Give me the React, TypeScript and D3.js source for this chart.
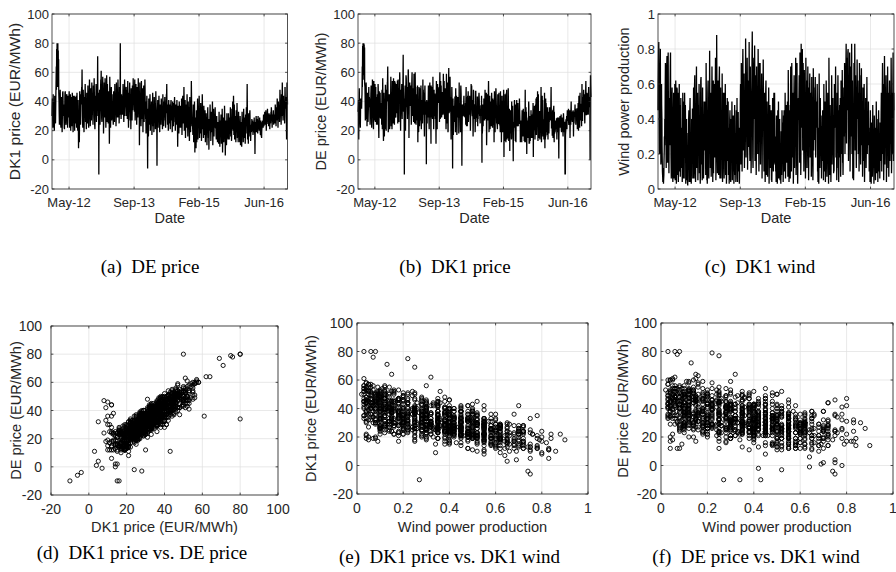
import React from "react";
import * as d3 from "d3";

// Daily market observations. Each three-day block contributes two days:
// the first array of each pair holds day 0 of the block, the second day 1.
const SERIES_START = "2012-01-01";
const BLOCK_DAYS = 3;

// DK1 wind power production, percent of installed capacity (block day 0).
const windPct = [
  45,70,84,35,20,55,80,30,18,60,40,15,7,6,3,8,22,25,38,72,50,12,62,76,28,45,78,35,9,52,
  25,62,78,30,6,45,58,20,4,36,55,10,40,60,5,28,50,3,33,57,12,42,4,30,55,16,48,7,38,22,
  20,35,4,42,10,28,50,6,55,30,48,3,22,40,5,14,2,32,25,45,4,36,52,8,28,3,40,15,46,6,
  30,58,6,45,65,18,4,40,62,12,35,55,5,48,25,60,9,38,3,52,64,14,42,5,58,30,10,13,50,22,
  27,50,8,72,35,5,3,40,62,14,6,45,79,30,12,55,7,38,70,20,4,48,9,33,60,18,42,75,5,28,
  88,40,9,62,30,8,50,70,12,35,58,6,45,20,66,4,38,55,14,6,42,22,60,8,48,3,33,52,16,40,
  8,35,3,28,45,12,4,40,18,50,5,30,10,42,3,25,48,8,32,4,38,15,52,6,27,44,10,35,3,30,
  35,60,14,72,45,10,55,80,22,40,66,12,50,28,86,18,58,38,75,11,48,62,24,84,35,16,70,45,9,52,
  62,90,30,12,55,75,40,82,16,65,48,8,70,35,58,20,80,45,10,60,38,72,14,50,30,66,6,42,55,74,
  40,10,55,28,4,45,62,16,35,50,7,38,22,58,3,30,48,12,42,33,5,4,18,52,36,10,45,28,55,14,
  30,10,4,42,18,3,35,12,50,6,28,40,5,25,3,33,8,45,20,38,4,42,34,10,26,55,6,30,48,15,
  25,50,7,68,35,4,45,16,6,58,30,10,72,40,18,55,3,38,65,12,48,24,75,8,42,60,15,3,35,52,
  40,65,15,78,50,8,83,35,60,80,22,72,45,10,68,28,55,6,75,42,62,12,48,70,24,5,58,38,66,18,
  30,55,7,64,40,15,5,69,22,48,38,58,64,18,45,50,35,60,10,4,25,3,66,33,12,52,20,42,6,36,
  16,45,35,5,60,10,28,50,4,40,62,12,7,32,55,22,3,75,30,8,48,18,4,38,65,14,35,52,42,9,
  10,60,35,48,70,18,40,5,55,24,65,12,4,45,38,26,52,7,62,20,42,68,15,8,50,58,30,72,20,45,
  55,83,26,75,45,68,80,16,60,40,78,10,52,70,30,83,20,62,6,48,5,72,35,83,22,65,45,12,58,74,
  40,62,20,55,10,72,35,48,14,65,69,25,50,7,58,34,16,60,4,45,22,52,12,40,64,20,43,34,50,26,
  10,32,4,45,15,3,38,20,7,48,12,30,3,42,18,35,5,28,50,9,40,15,4,33,45,10,26,6,38,16,
  30,55,10,45,72,20,60,5,40,76,14,50,32,65,4,42,24,70,12,55,7,38,62,16,48,26,75,9,45,20,
  40,78,16,55,
];

// DK1 wind power production, percent of installed capacity (block day 1).
const windPctNext = [
  58,78,62,22,35,68,55,14,32,48,25,10,4,12,5,16,30,40,55,60,32,28,70,50,15,62,58,20,25,40,
  38,70,55,18,12,52,40,8,15,42,48,6,28,48,12,62,35,10,58,40,8,55,14,45,60,10,30,18,52,12,
  12,25,15,55,6,20,42,22,48,18,40,8,32,28,10,6,8,22,40,30,12,45,38,4,16,10,28,25,35,14,
  42,45,15,58,50,10,12,30,70,22,48,40,12,35,38,52,18,25,8,62,55,20,30,12,45,40,6,24,38,30,
  40,38,18,60,22,10,12,55,48,8,15,35,65,42,20,45,12,50,58,30,10,62,18,40,52,28,55,62,14,20,
  72,28,18,50,42,14,62,55,6,45,40,12,35,30,52,10,48,42,22,10,55,30,45,14,35,8,25,40,24,50,
  15,25,10,40,32,6,12,28,30,38,10,42,18,30,8,35,36,14,22,10,45,25,40,4,20,32,16,25,8,22,
  48,45,25,60,32,18,68,65,35,52,50,20,38,40,72,28,45,50,62,20,35,55,36,70,25,28,58,52,16,40,
  75,72,18,25,68,60,52,70,28,52,35,15,58,48,45,38,68,32,22,72,50,60,25,40,42,55,14,55,45,62,
  28,20,42,15,12,55,48,8,25,38,15,28,35,45,10,42,36,20,30,45,12,10,30,40,25,18,55,15,42,25,
  20,16,10,30,25,8,45,6,38,12,20,30,10,15,8,22,14,35,28,30,10,32,45,16,18,42,12,22,38,25,
  38,40,15,55,48,10,32,25,12,70,22,18,62,52,28,45,8,50,55,20,35,32,65,15,30,72,22,8,45,40,
  52,58,25,70,38,15,75,45,52,68,32,62,35,18,60,40,45,12,65,55,50,20,38,62,35,12,48,50,55,28,
  42,45,14,55,30,22,12,58,32,38,28,48,52,25,35,40,45,50,18,10,35,8,55,42,20,40,28,32,14,28,
  25,35,45,12,48,18,20,40,10,30,55,20,14,42,45,30,8,62,22,15,38,25,10,28,55,20,45,40,32,16,
  18,50,45,38,58,25,30,12,45,32,55,20,10,35,48,18,42,14,52,28,32,58,22,15,40,48,38,62,28,35,
  68,72,38,62,55,78,65,25,50,48,68,18,40,62,40,72,30,52,14,38,12,62,45,70,32,55,35,20,48,65,
  50,52,30,45,18,60,25,38,22,55,58,35,40,14,48,25,24,50,10,35,30,42,20,30,52,28,35,25,40,35,
  18,25,10,35,22,8,30,12,14,40,20,22,8,32,25,28,12,20,42,16,32,22,10,25,38,16,20,12,30,24,
  42,45,18,55,62,28,50,12,52,65,22,40,42,55,10,32,35,60,20,45,14,48,52,25,38,35,65,16,55,28,
  52,62,25,45,
];

// DK1 day-ahead price, EUR/MWh (block day 0).
const dk1Price = [
  30,42,22,45,38,27,20,44,35,25,46,64,76,80,50,80,75,69,40,24,36,48,28,22,43,33,19,41,47,30,
  38,26,21,43,47,30,24,40,45,33,22,44,29,36,47,25,38,45,20,31,43,27,46,35,19,40,28,44,20,37,
  33,25,44,22,46,30,20,41,8,28,12,47,35,24,45,38,50,62,30,22,48,32,19,43,36,52,26,42,21,46,
  40,25,51,33,22,47,55,30,23,49,38,27,53,31,46,24,51,36,56,29,21,44,33,52,26,41,49,71,30,46,
  -10,30,48,24,42,55,61,33,26,50,57,36,18,46,53,29,56,41,22,49,58,31,52,44,25,47,38,11,57,40,
  22,40,50,27,45,30,35,24,47,38,26,52,33,46,23,53,37,29,48,55,34,44,25,50,31,80,42,28,45,36,
  44,31,52,38,26,47,55,30,41,43,50,35,48,28,54,40,22,46,33,53,32,45,21,49,37,27,51,34,56,39,
  47,33,55,27,42,52,31,24,50,40,29,56,36,47,10,53,33,45,23,54,38,28,49,19,44,51,26,41,55,32,
  28,18,40,44,23,-6,35,16,42,24,33,45,20,38,26,40,17,31,46,23,37,19,43,28,39,21,47,33,26,-4,
  30,41,22,36,44,26,19,38,31,24,42,28,37,21,45,33,23,40,29,43,27,22,39,45,52,32,24,38,20,41,
  35,25,38,21,33,41,27,37,19,40,30,23,39,32,43,26,20,38,34,24,41,24,9,37,29,18,40,31,22,37,
  34,22,42,17,31,44,25,39,50,20,36,41,15,30,38,22,45,32,16,40,26,36,13,43,28,19,37,54,33,23,
  27,17,38,12,25,40,5,29,16,8,34,12,26,42,14,33,22,44,15,30,18,39,24,13,36,45,21,31,15,37,
  25,17,34,12,24,32,20,10,29,36,23,15,7,28,20,38,26,13,33,19,30,40,10,25,35,16,30,22,36,27,
  22,14,30,18,12,26,21,11,33,17,9,27,19,31,11,24,35,5,18,29,12,23,37,15,3,27,19,10,32,17,
  22,14,32,23,14,29,18,36,16,27,13,35,21,40,25,44,17,38,14,30,24,12,34,19,39,15,27,12,33,21,
  24,12,30,10,21,18,9,33,19,27,12,35,20,15,29,11,31,18,36,23,52,14,27,11,32,16,25,34,19,13,
  24,19,28,20,27,17,23,22,29,18,4,26,20,30,19,25,28,18,30,21,27,20,29,23,17,27,16,15,22,26,
  27,22,31,23,29,33,24,30,34,20,28,25,35,26,31,23,32,28,21,30,25,33,36,27,22,31,26,34,24,30,
  31,25,38,28,23,36,27,42,33,22,40,29,37,26,48,32,39,24,45,30,53,37,27,44,34,40,25,50,35,43,
  38,14,53,42,
];

// DK1 day-ahead price, EUR/MWh (block day 1).
const dk1PriceNext = [
  36,35,29,40,33,23,28,39,30,32,51,48,58,55,57,52,56,46,33,29,42,43,24,30,37,27,25,46,41,35,
  32,22,29,46,41,26,31,44,39,28,27,40,34,42,39,22,42,38,25,36,39,23,41,29,24,44,33,38,26,43,
  28,31,39,27,40,25,26,34,18,33,20,42,29,30,40,44,45,51,25,28,43,27,24,38,41,46,31,37,27,40,
  35,30,45,28,27,42,50,36,28,44,32,33,47,36,40,29,46,41,50,24,27,39,38,47,31,36,44,52,35,41,
  22,36,43,29,47,50,52,28,31,45,52,41,24,40,48,34,51,36,28,44,53,26,47,39,30,42,33,20,51,45,
  28,45,44,32,40,36,29,30,42,33,31,47,38,41,28,48,32,34,43,50,29,39,30,45,36,47,37,33,40,31,
  39,36,47,33,31,42,50,35,36,48,45,30,43,33,49,35,28,41,38,48,27,40,26,44,32,33,46,39,51,44,
  42,38,50,32,37,47,36,29,45,35,34,51,41,42,22,48,38,40,28,49,43,33,44,26,39,46,31,36,50,37,
  33,24,35,39,28,15,30,22,37,29,28,40,25,33,31,35,22,36,41,28,32,24,38,33,34,26,42,28,31,18,
  35,36,27,31,39,31,24,33,36,29,37,33,32,26,40,38,28,35,34,38,32,27,34,40,42,37,29,33,25,36,
  30,30,33,26,38,36,32,32,24,35,35,28,34,37,38,31,25,33,29,29,36,28,19,32,34,23,35,36,27,32,
  29,27,37,22,36,39,30,34,44,25,31,36,21,35,33,27,40,27,22,35,31,31,19,38,33,24,32,46,28,28,
  22,23,33,18,30,35,13,24,21,15,29,19,31,37,20,28,27,39,21,25,23,34,29,19,31,40,26,26,21,32,
  20,22,29,18,29,27,25,16,24,31,28,20,15,23,25,33,21,19,28,24,25,35,17,30,30,21,25,27,31,22,
  17,19,25,23,17,21,26,16,28,22,14,22,24,26,16,19,30,12,23,24,17,18,32,20,10,22,24,15,27,22,
  17,19,27,28,19,24,23,31,21,22,18,30,26,35,20,38,22,33,19,25,29,17,29,24,34,20,22,17,28,26,
  19,17,25,16,26,13,15,28,24,22,17,30,25,20,24,16,26,23,31,28,40,19,22,17,27,21,30,29,24,18,
  21,23,25,24,23,21,26,19,25,22,14,23,24,27,22,21,25,22,26,24,23,24,26,20,21,24,19,20,25,23,
  24,26,28,27,25,30,28,27,31,24,25,29,32,29,28,27,29,31,25,27,29,30,33,30,26,28,30,31,27,27,
  27,30,34,32,28,32,31,38,37,27,36,33,33,31,43,36,35,29,41,34,46,33,32,40,38,36,30,45,39,39,
  33,24,47,38,
];

// German (DE) day-ahead price, EUR/MWh (block day 0).
const dePrice = [
  33,38,14,46,32,36,22,42,40,36,43,64,78,80,80,80,79,77,50,27,29,53,29,34,41,37,26,37,50,36,
  36,31,32,40,51,30,32,35,51,35,21,54,32,29,52,26,50,43,24,38,39,30,52,38,15,47,29,38,29,39,
  28,31,46,21,56,33,13,46,24,40,28,51,42,20,48,44,53,64,37,23,42,41,21,41,41,57,23,46,21,54,
  45,26,56,31,26,54,51,33,29,52,34,34,54,25,55,26,49,41,60,26,25,44,41,47,32,43,48,72,33,39,
  -10,36,51,20,49,56,36,42,28,48,62,47,15,50,53,37,51,47,24,48,60,34,45,49,26,59,36,25,60,36,
  26,37,43,27,51,12,34,19,50,28,27,49,27,51,21,41,37,25,55,48,33,46,16,48,32,34,33,-3,41,25,
  40,35,43,40,24,42,53,29,30,11,47,43,42,28,57,32,21,48,32,45,35,42,11,54,35,21,52,41,49,39,
  50,26,60,28,54,50,35,31,46,43,35,59,32,54,30,47,42,47,21,59,49,25,53,19,52,63,32,43,54,42,
  35,14,43,50,26,-6,42,17,36,33,35,43,25,49,23,44,17,39,41,29,39,18,53,31,32,26,48,45,24,-4,
  31,35,31,38,42,31,30,35,35,24,50,23,43,23,44,43,26,33,34,44,39,20,43,52,48,35,30,41,16,48,
  32,29,38,29,28,47,29,36,29,43,23,28,40,44,41,30,27,34,37,30,44,-2,18,38,23,27,42,29,27,48,
  33,32,45,10,36,45,37,37,54,27,32,44,21,33,34,29,46,26,25,42,24,41,24,40,32,19,45,49,39,25,
  25,21,45,25,28,46,32,25,23,47,28,44,28,40,19,44,19,48,2,38,13,45,26,12,46,48,14,36,16,49,
  21,24,35,6,33,34,18,15,40,33,27,15,-1,23,26,40,25,23,36,12,35,41,36,23,39,23,26,25,42,30,
  27,25,27,22,12,34,16,17,35,16,33,30,12,48,12,36,33,4,25,25,15,29,40,11,11,28,13,19,34,15,
  28,16,31,33,2,22,23,37,28,25,38,42,17,43,31,47,13,45,15,24,33,14,32,24,50,12,31,44,41,16,
  25,24,28,46,8,14,42,39,22,23,36,36,14,24,31,30,36,29,33,27,50,22,22,17,34,15,35,37,12,18,
  27,21,26,24,28,14,28,23,28,21,1,24,22,30,23,22,31,19,29,26,29,16,32,24,23,26,-10,-10,20,28,
  28,21,34,29,27,35,24,34,31,15,29,24,40,28,27,26,33,34,16,32,29,31,38,30,24,29,30,35,21,35,
  39,20,44,30,22,46,30,35,38,23,52,27,41,33,44,35,45,27,41,37,54,31,36,46,32,45,36,47,39,43,
  42,0,58,46,
];

// German (DE) day-ahead price, EUR/MWh (block day 1).
const dePriceNext = [
  34,41,30,49,28,27,28,36,38,35,45,50,60,58,61,55,59,52,44,29,40,49,28,23,46,28,30,43,43,43,
  42,24,34,45,48,22,34,55,39,26,33,44,27,51,40,27,39,40,33,34,45,24,50,24,28,44,30,46,29,37,
  32,24,48,28,45,22,28,42,16,39,21,51,24,34,40,41,53,54,19,38,45,32,23,45,37,49,42,37,25,46,
  44,25,49,28,24,50,53,30,38,46,37,32,54,32,43,40,46,39,56,28,20,48,39,52,28,38,52,50,41,42,
  21,43,39,32,58,50,50,34,35,38,61,42,29,37,50,42,49,42,29,53,48,30,47,36,38,45,27,30,53,50,
  24,45,36,29,43,29,30,26,46,23,30,42,30,44,26,37,37,31,43,44,31,30,28,51,31,40,38,32,28,35,
  35,29,51,32,21,48,48,36,31,51,37,29,50,29,43,37,28,30,43,45,28,33,24,48,26,35,43,44,42,44,
  45,49,50,30,43,51,29,38,46,40,31,53,49,40,28,49,47,35,32,49,40,41,47,20,49,48,36,35,57,33,
  35,32,33,45,29,24,25,26,37,26,36,43,19,43,33,40,21,43,37,31,43,24,36,39,38,19,51,29,36,15,
  38,30,37,33,44,30,31,29,39,40,37,31,38,30,33,47,29,40,31,40,40,25,40,41,51,32,33,33,22,44,
  28,36,37,19,47,37,37,29,26,43,33,34,35,46,33,35,25,30,37,32,30,38,21,37,33,30,31,39,38,32,
  35,28,46,17,40,39,27,42,47,19,41,38,26,34,40,23,43,38,22,33,37,35,12,47,34,29,29,48,36,26,
  24,28,32,25,26,38,24,24,19,21,33,12,40,38,25,25,29,47,19,31,24,43,24,23,31,37,34,29,15,42,
  13,31,30,23,26,29,33,14,30,32,37,15,19,23,22,41,24,13,38,26,30,34,24,26,33,32,25,25,37,26,
  12,23,25,20,25,24,20,26,30,27,13,29,20,29,27,19,28,18,27,17,26,19,37,17,12,30,22,21,28,31,
  24,15,30,39,19,22,29,35,14,31,19,35,23,37,28,36,28,34,28,20,33,17,26,32,37,14,32,19,33,25,
  24,14,27,24,24,19,16,37,19,26,17,27,33,23,18,26,28,28,30,35,36,22,33,17,25,27,34,22,33,19,
  19,27,27,21,28,22,29,19,29,20,16,29,24,26,25,23,21,27,27,27,21,25,30,19,24,25,24,17,27,23,
  30,26,27,30,27,26,33,28,34,22,26,33,31,32,29,32,26,33,25,25,33,32,30,35,27,31,30,35,25,29,
  35,28,40,33,37,27,35,38,34,35,39,27,43,33,48,35,42,25,44,45,46,31,38,44,31,45,31,50,36,41,
  37,30,52,43,
];

const dateTickValues = ["2012-05-11", "2013-09-23", "2015-02-04", "2016-06-18"];
const dateTickLabels = ["May-12", "Sep-13", "Feb-15", "Jun-16"];
const priceTicks = [-20, 0, 20, 40, 60, 80, 100];
const shareTicks = [0, 0.2, 0.4, 0.6, 0.8, 1];

type Day = { date: Date; dk1: number; de: number; wind: number };

const parseDay = d3.utcParse("%Y-%m-%d");
const startDay = parseDay(SERIES_START) as Date;
const days: Day[] = d3.range(dk1Price.length).flatMap((i) => [
  {
    date: d3.utcDay.offset(startDay, i * BLOCK_DAYS),
    dk1: dk1Price[i],
    de: dePrice[i],
    wind: windPct[i] / 100,
  },
  {
    date: d3.utcDay.offset(startDay, i * BLOCK_DAYS + 1),
    dk1: dk1PriceNext[i],
    de: dePriceNext[i],
    wind: windPctNext[i] / 100,
  },
]);
const isNum = (v: unknown): v is number => typeof v === "number" && Number.isFinite(v);
const dateExtent = d3.extent(days, (d) => d.date) as [Date, Date];

const SANS = "'Liberation Sans', Arial, Helvetica, sans-serif";
const SERIF = "'Liberation Serif', 'Times New Roman', serif";
const AXIS = "#262626";
const GRID = "#dfdfdf";

type Box = { l: number; r: number; t: number; b: number };

type FrameProps = {
  box: Box;
  x: (v: any) => number;
  y: (v: number) => number;
  xTicks: any[];
  xLabels: string[];
  yTicks: number[];
  yLabels: string[];
  xTitle: string;
  yTitle: string;
  tickSize: number;
  titleSize: number;
  yTitleX: number;
  yTitleStretch?: number;
  yLabelGap: number;
  xLabelY: number;
  xTitleY: number;
  caption: string;
  captionX: number;
  captionY: number;
  children?: React.ReactNode;
};

function Frame(p: FrameProps) {
  const { box } = p;
  const tl = 2.4;
  const xs = p.xTicks.map((t) => p.x(t));
  const ys = p.yTicks.map((t) => p.y(t));
  const stretch = p.yTitleStretch ?? 1;
  return (
    <g>
      {xs.map((px, i) => (
        <line key={"gx" + i} x1={px} x2={px} y1={box.t} y2={box.b} stroke={GRID} strokeWidth={0.7} />
      ))}
      {ys.map((py, i) => (
        <line key={"gy" + i} x1={box.l} x2={box.r} y1={py} y2={py} stroke={GRID} strokeWidth={0.7} />
      ))}
      {p.children}
      <rect x={box.l} y={box.t} width={box.r - box.l} height={box.b - box.t} fill="none" stroke={AXIS} strokeWidth={0.8} />
      {xs.map((px, i) => (
        <g key={"tx" + i} stroke={AXIS} strokeWidth={0.8}>
          <line x1={px} x2={px} y1={box.b} y2={box.b - tl} />
          <line x1={px} x2={px} y1={box.t} y2={box.t + tl} />
        </g>
      ))}
      {ys.map((py, i) => (
        <g key={"ty" + i} stroke={AXIS} strokeWidth={0.8}>
          <line x1={box.l} x2={box.l + tl} y1={py} y2={py} />
          <line x1={box.r} x2={box.r - tl} y1={py} y2={py} />
        </g>
      ))}
      <g fontFamily={SANS} fill={AXIS} fontSize={p.tickSize}>
        {xs.map((px, i) => (
          <text key={"lx" + i} x={px} y={p.xLabelY} textAnchor="middle">{p.xLabels[i]}</text>
        ))}
        {ys.map((py, i) => (
          <text key={"ly" + i} x={box.l - p.yLabelGap} y={py} textAnchor="end" dominantBaseline="central">{p.yLabels[i]}</text>
        ))}
      </g>
      <g fontFamily={SANS} fill={AXIS} fontSize={p.titleSize}>
        <text x={(box.l + box.r) / 2} y={p.xTitleY} textAnchor="middle">{p.xTitle}</text>
        <text
          transform={`translate(${p.yTitleX},${(box.t + box.b) / 2}) rotate(-90) scale(${stretch},1)`}
          textAnchor="middle"
          dominantBaseline="central"
        >
          {p.yTitle}
        </text>
      </g>
      <text x={p.captionX} y={p.captionY} textAnchor="middle" fontFamily={SERIF} fontSize={19} fill="#000" style={{ whiteSpace: "pre" }}>
        {p.caption}
      </text>
    </g>
  );
}

function TimePanel(props: {
  box: Box;
  value: (d: Day) => number;
  yDomain: [number, number];
  yTicks: number[];
  yLabels: string[];
  yTitle: string;
  yTitleX: number;
  yTitleStretch?: number;
  caption: string;
  captionX: number;
}) {
  const { box } = props;
  const x = d3.scaleUtc().domain(dateExtent).range([box.l, box.r]);
  const y = d3.scaleLinear().domain(props.yDomain).range([box.b, box.t]);
  const path = d3
    .line<Day>()
    .defined((d) => isNum(props.value(d)))
    .x((d) => x(d.date))
    .y((d) => y(props.value(d)))(days);
  return (
    <Frame
      box={box}
      x={x}
      y={y}
      xTicks={dateTickValues.map((d) => parseDay(d) as Date)}
      xLabels={dateTickLabels}
      yTicks={props.yTicks}
      yLabels={props.yLabels}
      xTitle="Date"
      yTitle={props.yTitle}
      tickSize={13}
      titleSize={14.5}
      yTitleX={props.yTitleX}
      yTitleStretch={props.yTitleStretch}
      yLabelGap={3}
      xLabelY={206.5}
      xTitleY={223}
      caption={props.caption}
      captionX={props.captionX}
      captionY={273}
    >
      <path d={path ?? ""} fill="none" stroke="#000" strokeWidth={1.3} strokeLinejoin="miter" />
    </Frame>
  );
}

function ScatterPanel(props: {
  box: Box;
  xv: (d: Day) => number;
  yv: (d: Day) => number;
  xDomain: [number, number];
  xTicks: number[];
  xTitle: string;
  yTitle: string;
  yTitleX: number;
  yLabelGap: number;
  xLabelY: number;
  caption: string;
  captionX: number;
  captionY: number;
}) {
  const { box } = props;
  const x = d3.scaleLinear().domain(props.xDomain).range([box.l, box.r]);
  const y = d3.scaleLinear().domain([-20, 100]).range([box.b, box.t]);
  const pts = days.filter((d) => isNum(props.xv(d)) && isNum(props.yv(d)));
  return (
    <Frame
      box={box}
      x={x}
      y={y}
      xTicks={props.xTicks}
      xLabels={props.xTicks.map((t) => String(t))}
      yTicks={priceTicks}
      yLabels={priceTicks.map((t) => String(t))}
      xTitle={props.xTitle}
      yTitle={props.yTitle}
      tickSize={14}
      titleSize={14.6}
      yTitleX={props.yTitleX}
      yLabelGap={props.yLabelGap}
      xLabelY={props.xLabelY}
      xTitleY={531.5}
      caption={props.caption}
      captionX={props.captionX}
      captionY={props.captionY}
    >
      <g fill="none" stroke="#000" strokeWidth={0.9}>
        {pts.map((d, i) => (
          <circle key={i} cx={x(props.xv(d))} cy={y(props.yv(d))} r={2.1} />
        ))}
      </g>
    </Frame>
  );
}

export default function App() {
  const top = { t: 14, b: 189 };
  return (
    <svg
      width={896}
      height={572}
      viewBox="0 0 896 572"
      style={{ position: "absolute", left: 0, top: 0, display: "block", background: "#fff" }}
    >
      <TimePanel
        box={{ l: 52, r: 287.5, ...top }}
        value={(d) => d.dk1}
        yDomain={[-20, 100]}
        yTicks={priceTicks}
        yLabels={priceTicks.map(String)}
        yTitle="DK1 price (EUR/MWh)"
        yTitleX={15}
        yTitleStretch={1.08}
        caption="(a)  DE price"
        captionX={150}
      />
      <TimePanel
        box={{ l: 358, r: 591, ...top }}
        value={(d) => d.de}
        yDomain={[-20, 100]}
        yTicks={priceTicks}
        yLabels={priceTicks.map(String)}
        yTitle="DE price (EUR/MWh)"
        yTitleX={321}
        caption="(b)  DK1 price"
        captionX={455}
      />
      <TimePanel
        box={{ l: 658, r: 894, ...top }}
        value={(d) => d.wind}
        yDomain={[0, 1]}
        yTicks={shareTicks}
        yLabels={shareTicks.map(String)}
        yTitle="Wind power production"
        yTitleX={624}
        caption="(c)  DK1 wind"
        captionX={760}
      />
      <ScatterPanel
        box={{ l: 51, r: 278, t: 326, b: 495 }}
        xv={(d) => d.dk1}
        yv={(d) => d.de}
        xDomain={[-20, 100]}
        xTicks={priceTicks}
        xTitle="DK1 price (EUR/MWh)"
        yTitle="DE price (EUR/MWh)"
        yTitleX={15.5}
        yLabelGap={9}
        xLabelY={514}
        caption="(d)  DK1 price vs. DE price"
        captionX={142}
        captionY={559}
      />
      <ScatterPanel
        box={{ l: 357, r: 588, t: 323, b: 494 }}
        xv={(d) => d.wind}
        yv={(d) => d.dk1}
        xDomain={[0, 1]}
        xTicks={shareTicks}
        xTitle="Wind power production"
        yTitle="DK1 price (EUR/MWh)"
        yTitleX={311}
        yLabelGap={4}
        xLabelY={512.5}
        caption="(e)  DK1 price vs. DK1 wind"
        captionX={449.5}
        captionY={563}
      />
      <ScatterPanel
        box={{ l: 661, r: 893, t: 323, b: 494 }}
        xv={(d) => d.wind}
        yv={(d) => d.de}
        xDomain={[0, 1]}
        xTicks={shareTicks}
        xTitle="Wind power production"
        yTitle="DE price (EUR/MWh)"
        yTitleX={623}
        yLabelGap={4}
        xLabelY={512.5}
        caption="(f)  DE price vs. DK1 wind"
        captionX={756}
        captionY={563}
      />
    </svg>
  );
}
